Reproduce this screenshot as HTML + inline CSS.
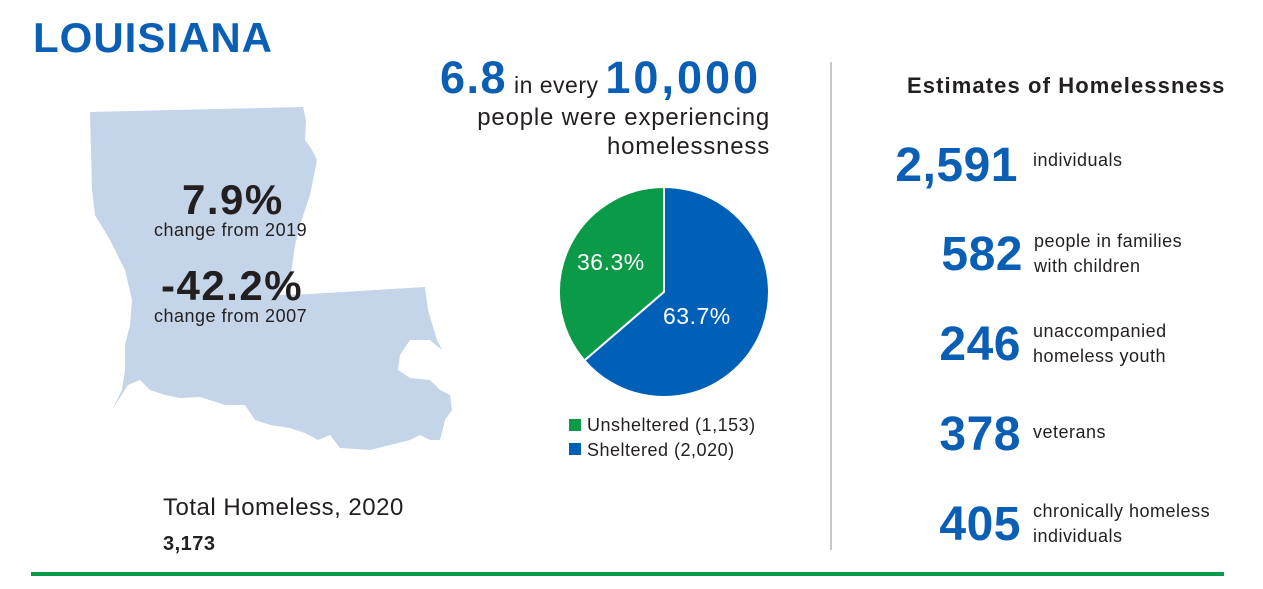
<!DOCTYPE html>
<html><head><meta charset="utf-8"><style>
body{margin:0;width:1263px;height:589px;background:#fff;position:relative;overflow:hidden;font-family:"Liberation Sans",sans-serif;color:#231f20;letter-spacing:0.5px}
.a{position:absolute;white-space:nowrap}
.blue{color:#0a5fb4}
.big{font-weight:bold;letter-spacing:0}
</style></head><body>
<div class="a blue big" style="left:33px;top:14px;font-size:42px;letter-spacing:1px">LOUISIANA</div>
<svg class="a" style="left:0;top:0" width="1263" height="589">
<polygon fill="#c5d5e9" points="90,112 303,107 306,120 305,140 312,150 317,160 314,175 310,195 305,210 300,225 295,245 293,260 290,280 278,295 310,294 425,287 428,310 437,340 442,350 430,340 410,340 400,355 398,370 410,378 430,380 440,390 450,395 452,410 445,420 440,440 430,440 420,435 410,440 390,445 370,450 340,448 330,435 318,440 305,433 290,428 270,425 255,420 245,405 225,405 200,397 180,398 165,395 150,390 140,380 128,385 112,410 122,390 125,370 125,345 130,325 132,300 125,270 110,240 95,215 92,190"/>
<path d="M664,292 L664,187 A105,105 0 0 0 584.4,360.5 Z" fill="#0a9a48" stroke="#fff" stroke-width="2"/>
<path d="M664,292 L584.4,360.5 A105,105 0 1 0 664,187 Z" fill="#0060b8" stroke="#fff" stroke-width="2"/>
<rect x="830" y="62" width="2" height="488" fill="#c8c8c8"/>
<rect x="31" y="572" width="1193" height="4" fill="#0a9a48"/>
<rect x="569" y="419" width="12" height="12" fill="#0a9a48"/>
<rect x="569" y="443" width="12" height="12" fill="#0060b8"/>
</svg>
<div class="a big" style="left:182px;top:176px;font-size:42px;letter-spacing:1.5px">7.9%</div>
<div class="a" style="left:154px;top:220px;font-size:18px;">change from 2019</div>
<div class="a big" style="left:161px;top:262px;font-size:42px;letter-spacing:1.5px">-42.2%</div>
<div class="a" style="left:154px;top:306px;font-size:18px;">change from 2007</div>
<div class="a" style="left:163px;top:494px;font-size:24px;">Total Homeless, 2020</div>
<div class="a" style="left:163px;top:533px;font-size:20px;font-weight:bold">3,173</div>
<div class="a" style="left:440px;top:52px;font-size:23px;"><span class="blue big" style="font-size:45px;letter-spacing:1.5px">6.8</span> in every <span class="blue big" style="font-size:45px;letter-spacing:3px">10,000</span></div>
<div class="a" style="right:493px;top:103px;font-size:24px;text-align:right;line-height:29px;letter-spacing:0.8px">people were experiencing<br>homelessness</div>
<div class="a" style="left:577px;top:249px;font-size:23px;color:#fff">36.3%</div>
<div class="a" style="left:663px;top:303px;font-size:23px;color:#fff">63.7%</div>
<div class="a" style="left:907px;top:73px;font-size:22px;font-weight:bold;letter-spacing:1.1px">Estimates of Homelessness</div>
<div class="a" style="left:587px;top:415px;font-size:18px;">Unsheltered (1,153)</div>
<div class="a" style="left:587px;top:440px;font-size:18px;">Sheltered (2,020)</div>
<div class="a blue big" style="right:245px;top:138px;font-size:48px;letter-spacing:0.5px">2,591</div>
<div class="a" style="left:1033px;top:150px;font-size:18px;">individuals</div>
<div class="a blue big" style="right:240px;top:227px;font-size:48px;letter-spacing:0.5px">582</div>
<div class="a" style="left:1034px;top:229px;font-size:18px;line-height:25px">people in families<br>with children</div>
<div class="a blue big" style="right:242px;top:317px;font-size:48px;letter-spacing:0.5px">246</div>
<div class="a" style="left:1033px;top:319px;font-size:18px;line-height:25px">unaccompanied<br>homeless youth</div>
<div class="a blue big" style="right:242px;top:407px;font-size:48px;letter-spacing:0.5px">378</div>
<div class="a" style="left:1033px;top:422px;font-size:18px;">veterans</div>
<div class="a blue big" style="right:242px;top:497px;font-size:48px;letter-spacing:0.5px">405</div>
<div class="a" style="left:1033px;top:499px;font-size:18px;line-height:25px">chronically homeless<br>individuals</div>
</body></html>
